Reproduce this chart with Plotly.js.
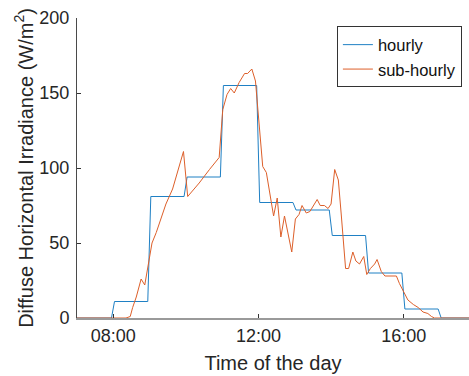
<!DOCTYPE html>
<html>
<head>
<meta charset="utf-8">
<script src="https://cdn.plot.ly/plotly-3.0.1.min.js"></script>
<style>
  html, body { margin: 0; padding: 0; background: #fff; }
  #chart { width: 469px; height: 376px; }
</style>
</head>
<body>
<div id="chart"></div>
<script>
// ---- data ----
const DAY = '2019-06-01 ';
const hourLabels = ['08', '09', '10', '11', '12', '13', '14', '15', '16'];
const hourlyValues = [11, 81, 94, 155, 77, 72, 55, 30, 6];
const hourlyStart = '07:00';
const hourlyEndHour = '17';
const axisEnd = '17:48';

const subTimes = ['07:00', '08:21', '08:28', '08:32', '08:38', '08:46', '08:52', '08:58',
  '09:04', '09:11', '09:27', '09:38', '09:56', '10:03', '10:22', '10:39', '10:55',
  '11:01', '11:08', '11:14', '11:20', '11:28', '11:37', '11:42', '11:49', '11:55',
  '12:07', '12:13', '12:19', '12:25', '12:31', '12:37', '12:43', '12:49', '12:55',
  '13:01', '13:07', '13:12', '13:19', '13:25', '13:37', '13:42', '13:49', '13:55',
  '14:00', '14:06', '14:12', '14:17', '14:24', '14:29', '14:36', '14:41', '14:47', '14:54', '14:59',
  '15:05', '15:12', '15:16', '15:23', '15:29', '15:37', '15:48', '15:53',
  '16:00', '16:07', '16:16', '16:24', '16:32', '16:40', '16:46', '16:51', '17:48'];
const subValues = [0, 0, 1, 7, 14, 26, 22, 37,
  50, 57, 76, 86, 111, 81, 90, 99, 107,
  139, 149, 153, 150, 157, 163, 163, 166, 158,
  101, 97, 81, 68, 80, 54, 68, 57, 44,
  66, 69, 75, 70, 71, 79, 75, 75, 73,
  76, 99, 92, 68, 33, 33, 44, 38, 36, 41, 29,
  33, 36, 39, 31, 28, 28, 28, 23,
  17, 12, 9, 7, 4, 3, 1, 0, 0];

const yTicks = [0, 50, 100, 150, 200];
const xTickTimes = ['08:00', '12:00', '16:00'];

// ---- build the hourly step trace from the hourly values ----
const hx = [DAY + hourlyStart, DAY + '07:57'];
const hy = [0, 0];
hourLabels.forEach((h, i) => {
  hx.push(DAY + h + ':02', DAY + h + ':57');
  hy.push(hourlyValues[i], hourlyValues[i]);
});
hx.push(DAY + hourlyEndHour + ':02', DAY + axisEnd);
hy.push(0, 0);

const FONT = 'Liberation Sans, Arial, Helvetica, sans-serif';
const TXT = '#262626';

const traces = [
  {
    x: hx, y: hy, type: 'scatter', mode: 'lines', name: 'hourly',
    line: { color: '#1f80c4', width: 1 }
  },
  {
    x: subTimes.map(t => DAY + t), y: subValues, type: 'scatter', mode: 'lines', name: 'sub-hourly',
    line: { color: '#dd5f2a', width: 1 }
  }
];

const layout = {
  width: 469, height: 376,
  margin: { l: 77, r: 0, t: 18, b: 58 },
  paper_bgcolor: '#fff', plot_bgcolor: '#fff',
  font: { family: FONT, color: TXT, size: 18 },
  showlegend: true,
  legend: {
    x: 0.663, y: 0.972, xanchor: 'left', yanchor: 'top',
    bgcolor: '#fff', bordercolor: '#333', borderwidth: 1,
    font: { family: FONT, size: 16.5, color: '#111' },
    tracegroupgap: 0
  },
  xaxis: {
    type: 'date',
    range: [DAY + '07:00', DAY + axisEnd],
    tickmode: 'array',
    tickvals: xTickTimes.map(t => DAY + t),
    ticktext: xTickTimes,
    ticks: 'inside', ticklen: 4, tickcolor: '#333', tickwidth: 1,
    showline: true, linecolor: '#9a9a9a', linewidth: 2,
    showgrid: false, zeroline: false,
    tickfont: { size: 18, color: TXT },
    title: { text: 'Time of the day', font: { size: 20, color: TXT }, standoff: 11 }
  },
  yaxis: {
    range: [0, 200],
    tickmode: 'array', tickvals: yTicks,
    ticks: 'inside', ticklen: 4, tickcolor: '#333', tickwidth: 1,
    ticklabelstandoff: 3,
    showline: true, linecolor: '#4a4a4a', linewidth: 1,
    showgrid: false, zeroline: false,
    tickfont: { size: 18, color: TXT },
    title: { text: 'Diffuse Horizontal Irradiance (W/m<sup>2</sup>)', font: { size: 20, color: TXT }, standoff: 0 }
  }
};

Plotly.newPlot('chart', traces, layout, { displayModeBar: false, staticPlot: true });
</script>
</body>
</html>
